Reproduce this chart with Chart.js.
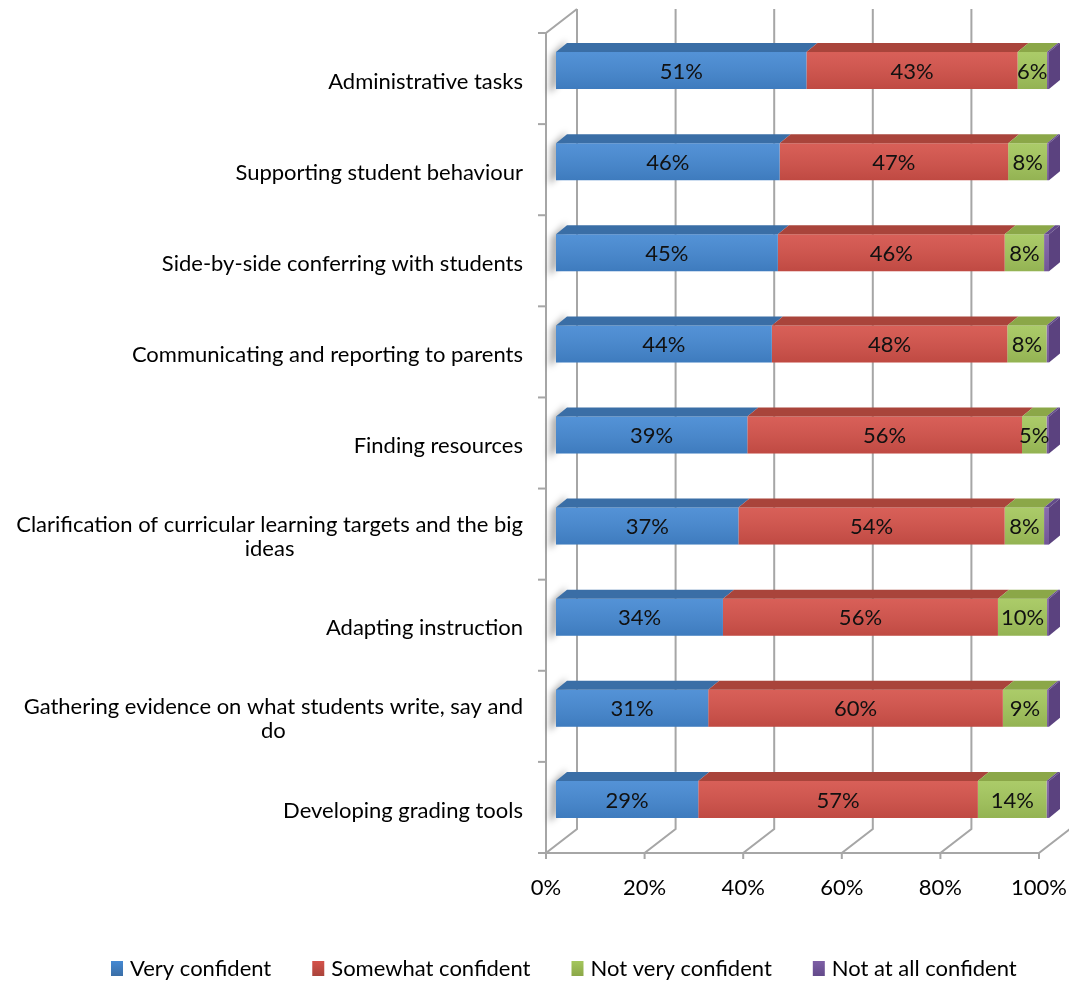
<!DOCTYPE html>
<html>
<head>
<meta charset="utf-8">
<script src="https://cdn.jsdelivr.net/npm/chart.js@4.4.0/dist/chart.umd.min.js"></script>
<style>
  body { margin: 0; background: #fff; }
  #wrap { width: 1069px; height: 984px; position: relative; }
</style>
</head>
<body>
<div id="wrap"><canvas id="chart"></canvas></div>
<script>
const categories = [
  'Administrative tasks',
  'Supporting student behaviour',
  'Side-by-side conferring with students',
  'Communicating and reporting to parents',
  'Finding resources',
  ['Clarification of curricular learning targets and the big', 'ideas'],
  'Adapting instruction',
  ['Gathering evidence on what students write, say and', 'do'],
  'Developing grading tools'
];
const veryConfident     = [51, 46, 45, 44, 39, 37, 34, 31, 29];
const somewhatConfident = [43, 47, 46, 48, 56, 54, 56, 60, 57];
const notVeryConfident  = [6, 8, 8, 8, 5, 8, 10, 9, 14];
const notAtAllConfident = [0.4, 0.4, 1, 0.5, 0.5, 1, 0.4, 0.4, 0.5];
const seriesNames = ['Very confident', 'Somewhat confident', 'Not very confident', 'Not at all confident'];
const xTicks = [0, 20, 40, 60, 80, 100];

const FONT = 'Lato, "Open Sans", sans-serif';
const FONT_SIZE = 22;

// offsets of the front edge, back wall and bar depth, relative to the bar face plane
const FRONT = { dx: -10, dy: 8 };
const BACK = { dx: 21, dy: -16 };
const DEPTH = { dx: 11, dy: -9 };

const faceColors = ['#4589d3', '#d5524a', '#a4c75c', '#7e5fa6'];
const topColors = ['#3a6ea6', '#a9443b', '#8ba748', '#634a8a'];
const sideColor = '#5b427f';

// 100% stacked: each row is scaled to its own total
const raw = [veryConfident, somewhatConfident, notVeryConfident, notAtAllConfident];
const totals = categories.map((_, j) => raw.reduce((s, arr) => s + arr[j], 0));
const shares = raw.map(arr => arr.map((v, j) => v / totals[j] * 100));

function poly(ctx, pts) {
  ctx.beginPath();
  ctx.moveTo(pts[0][0], pts[0][1]);
  for (let k = 1; k < pts.length; k++) ctx.lineTo(pts[k][0], pts[k][1]);
  ctx.closePath();
}

const box3d = {
  id: 'box3d',
  beforeDatasetsDraw(chart) {
    const { ctx, chartArea: a, scales: { x } } = chart;
    const band = (a.bottom - a.top) / categories.length;
    const x0 = x.getPixelForValue(0);
    ctx.save();
    ctx.strokeStyle = '#a6a6a6';
    ctx.lineWidth = 2;

    // back wall gridlines running down into the floor
    xTicks.forEach(v => {
      const px = x.getPixelForValue(v);
      ctx.beginPath();
      ctx.moveTo(px + BACK.dx, a.top + BACK.dy);
      ctx.lineTo(px + BACK.dx, a.bottom + BACK.dy);
      ctx.lineTo(px + FRONT.dx, a.bottom + FRONT.dy);
      ctx.lineTo(px + FRONT.dx, a.bottom + FRONT.dy + 6);
      ctx.stroke();
    });

    // side wall outline
    ctx.beginPath();
    ctx.moveTo(x0 + BACK.dx, a.top + BACK.dy);
    ctx.lineTo(x0 + FRONT.dx, a.top + FRONT.dy);
    ctx.lineTo(x0 + FRONT.dx, a.bottom + FRONT.dy + 6);
    ctx.stroke();

    // floor front edge
    ctx.beginPath();
    ctx.moveTo(x0 + FRONT.dx, a.bottom + FRONT.dy);
    ctx.lineTo(x.getPixelForValue(100) + FRONT.dx, a.bottom + FRONT.dy);
    ctx.stroke();

    // category ticks on the wall edge
    for (let i = 0; i <= categories.length; i++) {
      const y = a.top + i * band + FRONT.dy;
      ctx.beginPath();
      ctx.moveTo(x0 + FRONT.dx - 8, y);
      ctx.lineTo(x0 + FRONT.dx, y);
      ctx.stroke();
    }

    // soft shadow where each bar meets the wall
    ctx.filter = 'blur(3px)';
    ctx.fillStyle = 'rgba(0,0,0,0.3)';
    chart.getDatasetMeta(0).data.forEach(bar => {
      const top = bar.y - bar.height / 2, bottom = bar.y + bar.height / 2;
      poly(ctx, [
        [bar.base - 5, top + 3],
        [bar.base + DEPTH.dx - 1, top + DEPTH.dy - 3],
        [bar.base + 2, bottom - 4],
        [bar.base - 7, bottom + 5]
      ]);
      ctx.fill();
    });
    ctx.restore();
  },
  afterDatasetsDraw(chart) {
    const { ctx } = chart;
    const last = chart.data.datasets.length - 1;
    ctx.save();
    chart.data.datasets.forEach((ds, i) => {
      chart.getDatasetMeta(i).data.forEach(bar => {
        const top = bar.y - bar.height / 2, bottom = bar.y + bar.height / 2;
        const l = Math.min(bar.base, bar.x), r = Math.max(bar.base, bar.x);
        // shading on the face
        const g = ctx.createLinearGradient(0, top, 0, bottom);
        g.addColorStop(0, 'rgba(255,255,255,0.08)');
        g.addColorStop(1, 'rgba(0,0,0,0.10)');
        ctx.fillStyle = g;
        ctx.fillRect(l, top, r - l, bottom - top);
        // top face
        ctx.fillStyle = topColors[i];
        poly(ctx, [[l, top], [r, top], [r + DEPTH.dx, top + DEPTH.dy], [l + DEPTH.dx, top + DEPTH.dy]]);
        ctx.fill();
        // end face of the stack
        if (i === last) {
          ctx.fillStyle = sideColor;
          poly(ctx, [[r, top], [r + DEPTH.dx, top + DEPTH.dy], [r + DEPTH.dx, bottom + DEPTH.dy], [r, bottom]]);
          ctx.fill();
        }
      });
    });

    // value labels
    ctx.font = FONT_SIZE + 'px ' + FONT;
    ctx.fillStyle = '#111';
    ctx.textAlign = 'center';
    ctx.textBaseline = 'middle';
    for (let i = 0; i < last; i++) {
      chart.getDatasetMeta(i).data.forEach((bar, j) => {
        ctx.fillText(raw[i][j] + '%', (bar.base + bar.x) / 2, bar.y + 1);
      });
    }
    ctx.restore();
  },
  afterDraw(chart) {
    const { ctx, scales: { y } } = chart;
    ctx.save();
    ctx.font = FONT_SIZE + 'px ' + FONT;
    ctx.fillStyle = '#000';
    ctx.textBaseline = 'middle';

    // category names: block right-aligned to the wall, wrapped lines centred on each other
    const right = y.right - 33;
    const lineH = 24;
    categories.forEach((cat, j) => {
      const lines = Array.isArray(cat) ? cat : [cat];
      const w = Math.max(...lines.map(s => ctx.measureText(s).width));
      const cy = y.getPixelForValue(j) + 11;
      ctx.textAlign = lines.length > 1 ? 'center' : 'right';
      lines.forEach((s, k) => {
        const ly = cy + (k - (lines.length - 1) / 2) * lineH;
        ctx.fillText(s, lines.length > 1 ? right - w / 2 : right, ly);
      });
    });

    // legend row along the bottom
    ctx.textAlign = 'left';
    let lx = 111;
    const ly = 968;
    chart.data.datasets.forEach((ds, i) => {
      const g = ctx.createLinearGradient(0, ly - 7, 0, ly + 8);
      g.addColorStop(0, faceColors[i]);
      g.addColorStop(1, topColors[i]);
      ctx.fillStyle = g;
      ctx.fillRect(lx, ly - 7, 12, 15);
      ctx.fillStyle = '#000';
      ctx.fillText(ds.label, lx + 19, ly + 1);
      lx += 19 + ctx.measureText(ds.label).width + 41;
    });
    ctx.restore();
  }
};

new Chart(document.getElementById('chart'), {
  type: 'bar',
  data: {
    labels: categories,
    datasets: shares.map((data, i) => ({
      label: seriesNames[i],
      data: data,
      backgroundColor: faceColors[i],
      borderWidth: 0,
      barPercentage: 0.406,
      categoryPercentage: 1
    }))
  },
  options: {
    indexAxis: 'y',
    responsive: true,
    maintainAspectRatio: false,
    animation: false,
    layout: { padding: { top: 25, right: 20, bottom: 79, left: 0 } },
    scales: {
      x: {
        stacked: true,
        min: 0,
        max: 100,
        grid: { display: false },
        border: { display: false },
        afterFit: scale => {
          scale.height = 60;
          scale.paddingLeft = 0;
          scale.paddingRight = 0;
        },
        ticks: {
          stepSize: 20,
          padding: 22,
          labelOffset: FRONT.dx,
          color: '#000',
          font: { family: FONT, size: FONT_SIZE },
          callback: v => v + '%'
        }
      },
      y: {
        stacked: true,
        grid: { display: false },
        border: { display: false },
        afterFit: scale => {
          scale.width = 556;
          scale.paddingTop = 0;
          scale.paddingBottom = 0;
        },
        ticks: { display: false }
      }
    },
    plugins: {
      legend: { display: false },
      tooltip: {
        callbacks: {
          label: c => `${c.dataset.label}: ${raw[c.datasetIndex][c.dataIndex]}%`
        }
      }
    }
  },
  plugins: [box3d]
});
</script>
</body>
</html>
